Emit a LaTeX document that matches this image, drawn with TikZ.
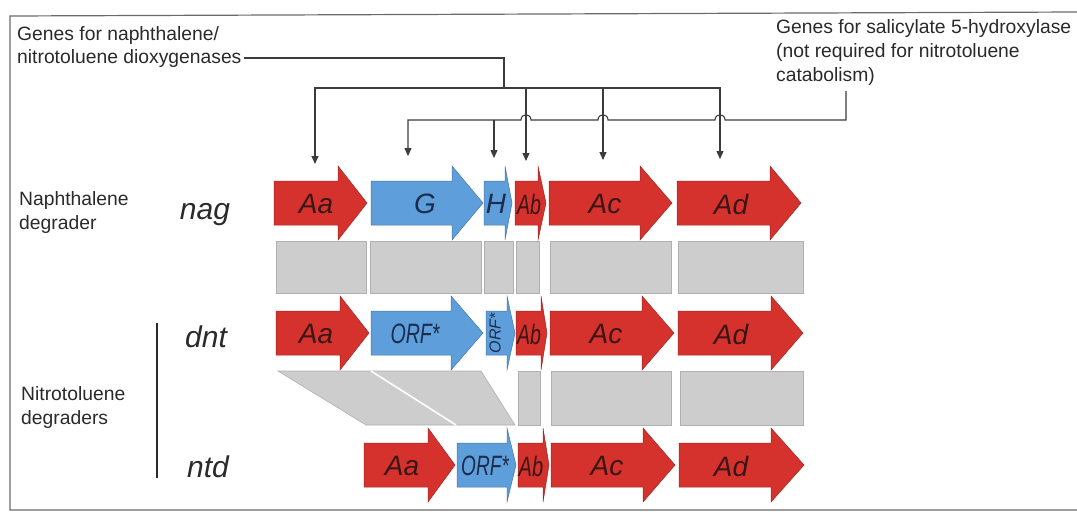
\documentclass[tikz,border=0pt]{standalone}
\usepackage{fontspec}
\setmainfont{Liberation Sans}
\usetikzlibrary{arrows.meta}
\definecolor{genered}{HTML}{D6322D}
\definecolor{geneblue}{HTML}{5E9FDB}
\definecolor{homgrey}{HTML}{CDCDCD}
\definecolor{homedge}{HTML}{B0B0B0}
\definecolor{redtxt}{HTML}{3A1616}
\definecolor{bluetxt}{HTML}{1C2C4C}
\definecolor{conncol}{HTML}{3C3C3C}
\definecolor{framecol}{HTML}{6A6A6A}
\definecolor{txtcol}{HTML}{2A2A2A}
% #1 x start, #2 head start, #3 tip, #4 y centre, #5 colour
\newcommand{\genearrow}[5]{%
  \fill[#5, draw=#5!75!black, line width=0.5pt]
    (#1,#4-22) -- (#2,#4-22) -- (#2,#4-37) -- (#3,#4) -- (#2,#4+37)
    -- (#2,#4+22) -- (#1,#4+22) -- cycle;}
% #1 x left, #2 x right, #3 y top, #4 y bottom
\newcommand{\hombox}[4]{%
  \filldraw[homblock] (#1,#3) rectangle (#2,#4);}
\begin{document}
\begin{tikzpicture}[x=1pt,y=-1pt,
  homblock/.style={fill=homgrey, draw=homedge, line width=0.6pt},
  smalltext/.style={font=\fontsize{19.3}{24}\selectfont, inner sep=0pt, anchor=base west, text=txtcol},
  strainlbl/.style={font=\itshape\fontsize{30}{30}\selectfont, inner sep=0pt, anchor=base, text=txtcol},
  redlbl/.style={font=\itshape\fontsize{28}{28}\selectfont, inner sep=0pt, text=redtxt},
  bluelbl/.style={font=\itshape\fontsize{28}{28}\selectfont, inner sep=0pt, text=bluetxt},
  conn/.style={draw=conncol, line width=1.1pt},
  tip/.style={-{Triangle[length=8pt,width=7pt]}}]
\useasboundingbox (0,0) rectangle (1077,515);
\fill[white] (0,0) rectangle (1077,515);

% frame
\draw[framecol, line width=1.2pt] (1077,12) -- (10,16) -- (10,510) -- (1077,510);

% ---------- texts ----------
\node[smalltext] (dioxA) at (17,40) {Genes for naphthalene/};
\node[smalltext] (dioxB) at (17,63) {nitrotoluene dioxygenases};
\node[smalltext] (salA) at (776,33) {Genes for salicylate 5-hydroxylase};
\node[smalltext] (salB) at (776,57) {(not required for nitrotoluene};
\node[smalltext] (cat) at (776,81) {catabolism)};

\node[smalltext] (naphA) at (19,205) {Naphthalene};
\node[smalltext] (naphB) at (19,229) {degrader};
\node[smalltext] (nitroA) at (21,400) {Nitrotoluene};
\node[smalltext] (nitroB) at (21,424) {degraders};

\node[strainlbl] (nag) at (205,219) {nag};
\node[strainlbl] (dnt) at (206,347) {dnt};
\node[strainlbl] (ntd) at (208,477) {ntd};
\coordinate (barT) at (157,323);
\coordinate (barB) at (157,478);
\draw[txtcol, line width=2pt] (barT) -- (barB);

% ---------- homology blocks ----------
\hombox{276}{366}{241}{293}
\hombox{370}{481}{241}{293}
\hombox{484}{513}{241}{293}
\hombox{516}{539}{241}{293}
\hombox{550}{671}{241}{293}
\hombox{678}{803}{241}{293}

\filldraw[homblock] (278,371) -- (481,371) -- (515,425) -- (366,425) -- cycle;
\draw[white, line width=1.6pt] (371,371) -- (456,425);
\hombox{518}{540}{371}{425}
\hombox{551}{671}{371}{425}
\hombox{680}{803}{371}{425}

% ---------- genes: nag ----------
\genearrow{274}{338}{367}{203}{genered}
\genearrow{371}{452}{483}{203}{geneblue}
\genearrow{484}{505}{512}{203}{geneblue}
\genearrow{515}{538}{546}{203}{genered}
\genearrow{549}{640}{672}{203}{genered}
\genearrow{677}{770}{801}{203}{genered}
\node[redlbl] (nagAa) at (316,204) {Aa};
\node[bluelbl] (nagG) at (425,204) {G};
\node[bluelbl] (nagH) at (496,204) {H};
\node[redlbl] (nagAb) at (529,204) {\scalebox{0.7}[1]{Ab}};
\node[redlbl] (nagAc) at (605,204) {Ac};
\node[redlbl] (nagAd) at (731,204) {Ad};

% ---------- genes: dnt ----------
\genearrow{276}{340}{369}{333}{genered}
\genearrow{371}{451}{483}{333}{geneblue}
\genearrow{486}{507}{515}{333}{geneblue}
\genearrow{516}{541}{547}{333}{genered}
\genearrow{550}{642}{674}{333}{genered}
\genearrow{678}{771}{803}{333}{genered}
\node[redlbl] (dntAa) at (316,334) {Aa};
\node[bluelbl] (dntORF) at (415,334) {\scalebox{0.7}[1]{ORF*}};
\node[bluelbl, font=\itshape\fontsize{16}{16}\selectfont, rotate=90] (dntORFb) at (495,333) {ORF*};
\node[redlbl] (dntAb) at (529,334) {\scalebox{0.7}[1]{Ab}};
\node[redlbl] (dntAc) at (606,334) {Ac};
\node[redlbl] (dntAd) at (731,334) {Ad};

% ---------- genes: ntd ----------
\genearrow{364}{428}{455}{465}{genered}
\genearrow{457}{507}{516}{465}{geneblue}
\genearrow{518}{543}{549}{465}{genered}
\genearrow{551}{643}{675}{465}{genered}
\genearrow{679}{771}{804}{465}{genered}
\node[redlbl] (ntdAa) at (402,466) {Aa};
\node[bluelbl] (ntdORF) at (485,466) {\scalebox{0.68}[1]{ORF*}};
\node[redlbl] (ntdAb) at (531,466) {\scalebox{0.72}[1]{Ab}};
\node[redlbl] (ntdAc) at (607,466) {Ac};
\node[redlbl] (ntdAd) at (731,466) {Ad};

% ---------- connectors ----------
\coordinate (jA) at (504,88);
\coordinate (jB) at (846,120);
\coordinate (tAa) at (315,164);
\coordinate (tG) at (408,156);
\coordinate (tH) at (494,158);
\coordinate (tAb) at (526,161);
\coordinate (tAc) at (603,160);
\coordinate (tAd) at (720,159);

\draw[conn] ([xshift=2pt]dioxB.east) -| (jA);
\draw[conn,tip] (jA) -| (tAa);
\draw[conn,tip] (jA) -| (tAd);
\draw[conn,tip] (jA -| tAb) -- (tAb);
\draw[conn,tip] (jA -| tAc) -- (tAc);

\draw[conn,tip] ([yshift=-6pt]cat.south -| jB) -- (jB) -- (725,120)
  .. controls (725,113) and (715,113) .. (715,120) -- (608,120)
  .. controls (608,113) and (598,113) .. (598,120) -- (531,120)
  .. controls (531,113) and (521,113) .. (521,120) -| (tG);
\draw[conn,tip] (jB -| tH) -- (tH);
\end{tikzpicture}
\end{document}
